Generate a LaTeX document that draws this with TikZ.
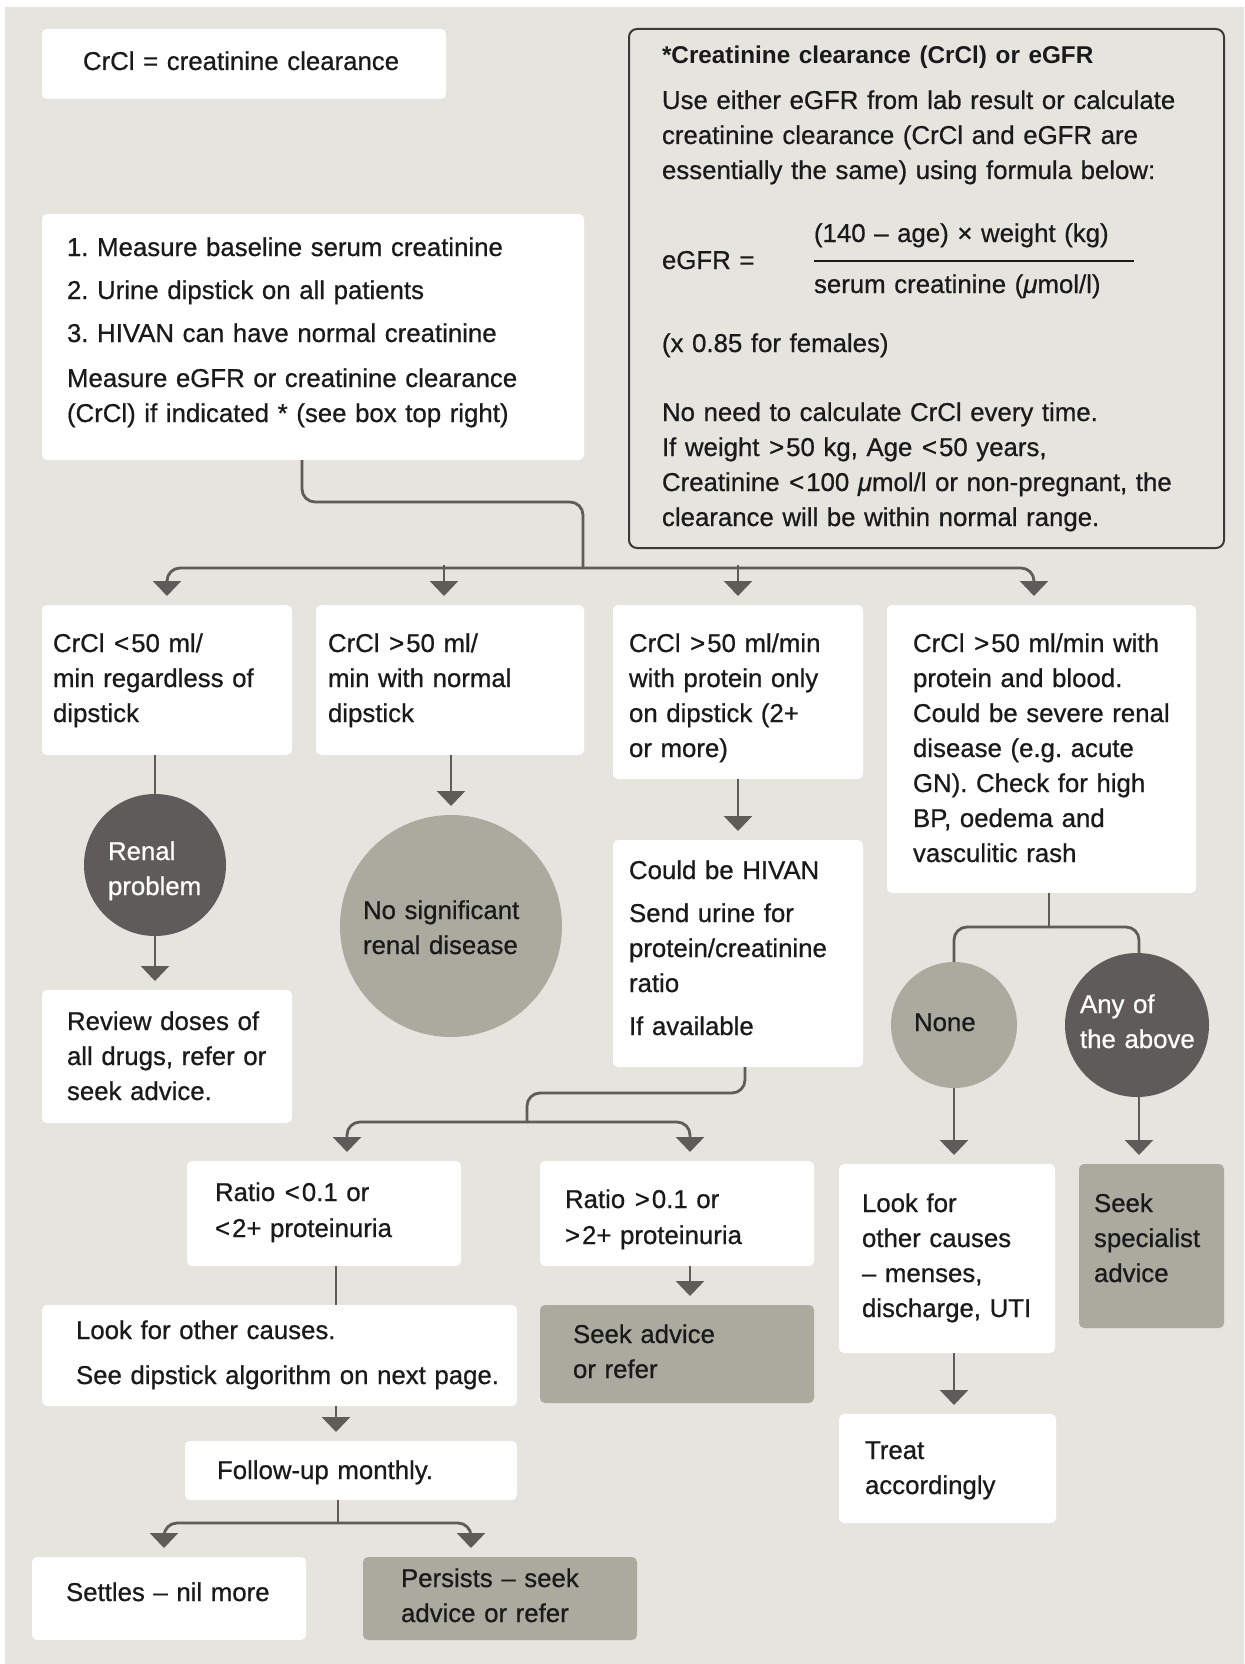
\documentclass[tikz,border=0pt]{standalone}
\usepackage{fontspec}
\setmainfont{Liberation Sans}[FakeBold=0.7]
\newfontfamily\semib{Liberation Sans Bold}
\usetikzlibrary{arrows.meta}
\definecolor{bgc}{HTML}{E5E4DE}
\definecolor{lnc}{HTML}{5F5B59}
\definecolor{gryc}{HTML}{ABAA9F}
\definecolor{drkc}{HTML}{5F5B5A}
\definecolor{brdc}{HTML}{3A3A3A}
\definecolor{inkc}{HTML}{1A1A1A}
\newcommand\myfs{\fontsize{25.8}{35}\selectfont\frenchspacing}
\newcommand\glt{\kern1pt<\kern2pt}
\newcommand\ggt{\kern1pt>\kern2pt}
\begin{document}
\begin{tikzpicture}[x=1pt,y=-1pt,
  box/.style 2 args={fill=white, rounded corners=5pt, inner sep=0pt, outer sep=0pt, anchor=north west, minimum width=#1pt, minimum height=#2pt},
  gbox/.style 2 args={box={#1}{#2}, fill=gryc},
  disc/.style 2 args={circle, fill=#1, inner sep=0pt, outer sep=0pt, minimum size=#2pt},
  txt/.style={anchor=base west, inner sep=0pt, outer sep=0pt, align=left, text width=560pt, font=\myfs, text=inkc},
  wtxt/.style={txt, text=white},
  conn/.style={draw=lnc, line width=2.8pt, rounded corners=13pt},
  arr/.style={conn, -{Triangle[width=28pt,length=15pt]}, shorten >=9pt}]
\useasboundingbox (0,0) rectangle (1244,1664);
\fill[white] (0,0) rectangle (1244,1664);
\fill[bgc] (5,7) rectangle (1244,1664);

% top boxes
\node[box={404}{70}] (crcl) at (42,29) {};
\node[txt] at (83,70) {CrCl = creatinine clearance};

\node[box={595}{519}, fill=bgc, draw=brdc, line width=2pt, rounded corners=8pt] (star) at (629,29) {};
\node[txt] at (662,64) {\semib\fontsize{24.3}{35}\selectfont *Creatinine clearance (CrCl) or eGFR};
\node[txt] at (662,109) {Use either eGFR from lab result or calculate\\creatinine clearance (CrCl and eGFR are\\essentially the same) using formula below:};
\node[txt] at (662,269) {eGFR =};
\node[txt] at (814,242) {(140 – age) × weight (kg)};
\draw[inkc, line width=1.6pt] (814,261) -- (1134,261);
\node[txt] at (814,293) {serum creatinine (\textit{μ}mol/l)};
\node[txt] at (662,352) {(x 0.85 for females)};
\node[txt] at (662,421) {No need to calculate CrCl every time.\\If weight \ggt50 kg, Age \glt50 years,\\Creatinine \glt100 \textit{μ}mol/l or non-pregnant, the\\clearance will be within normal range.};

\node[box={542}{246}] (m1) at (42,214) {};
\node[txt] at (67,256) {1. Measure baseline serum creatinine\\[8pt]2. Urine dipstick on all patients\\[8pt]3. HIVAN can have normal creatinine\\[10pt]Measure eGFR or creatinine clearance\\(CrCl) if indicated * (see box top right)};

% row of four
\node[box={250}{150}] (A) at (42,605) {};
\node[txt] at (53,652) {CrCl \glt50 ml/\\min regardless of\\dipstick};
\node[box={268}{150}] (B) at (316,605) {};
\node[txt] at (328,652) {CrCl \ggt50 ml/\\min with normal\\dipstick};
\node[box={250}{174}] (C) at (613,605) {};
\node[txt] at (629,652) {CrCl \ggt50 ml/min\\with protein only\\on dipstick (2+\\or more)};
\node[box={309}{288}] (D) at (887,605) {};
\node[txt] at (913,652) {CrCl \ggt50 ml/min with\\protein and blood.\\Could be severe renal\\disease (e.g. acute\\GN). Check for high\\BP, oedema and\\vasculitic rash};

% column A
\node[disc={drkc}{142}] (renal) at (155,865) {};
\node[wtxt] at (108,860) {Renal\\problem};
\node[box={250}{133}] (review) at (42,990) {};
\node[txt] at (67,1030) {Review doses of\\all drugs, refer or\\seek advice.};

% column B
\node[disc={gryc}{222}] (nosig) at (451,926) {};
\node[txt] at (363,919) {No significant\\renal disease};

% column C
\node[box={250}{227}] (hiv) at (613,840) {};
\node[txt] at (629,879) {Could be HIVAN\\[8pt]Send urine for\\protein/creatinine\\ratio\\[8pt]If available};
\node[box={274}{105}] (rlt) at (187,1161) {};
\node[txt] at (215,1201) {Ratio \glt0.1 or\\\glt2+ proteinuria};
\node[box={274}{105}] (rgt) at (540,1161) {};
\node[txt] at (565,1208) {Ratio \ggt0.1 or\\\ggt2+ proteinuria};
\node[box={475}{101}] (look) at (42,1305) {};
\node[txt] at (76,1339) {Look for other causes.\\[10pt]See dipstick algorithm on next page.};
\node[gbox={274}{98}] (seekadv) at (540,1305) {};
\node[txt] at (573,1343) {Seek advice\\or refer};
\node[box={332}{59}] (follow) at (185,1441) {};
\node[txt] at (217,1479) {Follow-up monthly.};
\node[box={274}{83}] (settles) at (32,1557) {};
\node[txt] at (66,1601) {Settles – nil more};
\node[gbox={274}{83}] (persists) at (363,1557) {};
\node[txt] at (401,1587) {Persists – seek\\advice or refer};

% column D
\node[disc={gryc}{126}] (none) at (954,1025) {};
\node[txt] at (914,1031) {None};
\node[disc={drkc}{144}] (any) at (1137,1025) {};
\node[wtxt] at (1080,1013) {Any of\\the above};
\node[box={216}{189}] (look2) at (839,1164) {};
\node[txt] at (862,1212) {Look for\\other causes\\– menses,\\discharge, UTI};
\node[gbox={145}{164}] (seekspec) at (1079,1164) {};
\node[txt] at (1094,1212) {Seek\\specialist\\advice};
\node[box={217}{109}] (treat) at (839,1414) {};
\node[txt] at (865,1459) {Treat\\accordingly};

% connectors: main split
\coordinate (s1) at (302,502);
\coordinate (s2) at (583,502);
\coordinate (bus) at (583,568);
\coordinate (bA) at (167,568);
\coordinate (bB) at (444,565);
\coordinate (bC) at (738,565);
\coordinate (bD) at (1034,568);
\draw[conn] (m1.south -| s1) -- (s1) -- (s2) -- (bus);
\draw[arr] (bus) -- (bA) -- (A.north -| bA);
\draw[arr] (bus) -- (bD) -- (D.north -| bD);
\draw[arr] (bB) -- (B.north -| bB);
\draw[arr] (bC) -- (C.north -| bC);

% column A
\draw[conn] (A.south -| renal.north) -- (renal.north);
\draw[arr] (renal.south) -- (review.north -| renal.south);

% column B
\draw[arr] (B.south -| nosig.north) -- (nosig.north);

% column C
\draw[arr] (C.south -| bC) -- (hiv.north -| bC);
\coordinate (h1) at (745,1093);
\coordinate (h2) at (527,1093);
\coordinate (h3) at (527,1122);
\coordinate (hl) at (347,1122);
\coordinate (hr) at (690,1122);
\draw[conn] (hiv.south -| h1) -- (h1) -- (h2) -- (h3);
\draw[arr] (h3) -- (hl) -- (rlt.north -| hl);
\draw[arr] (h3) -- (hr) -- (rgt.north -| hr);
\coordinate (vl) at (336,1266);
\draw[conn] (rlt.south -| vl) -- (look.north -| vl);
\draw[arr] (look.south -| vl) -- (follow.north -| vl);
\draw[arr] (rgt.south -| hr) -- (seekadv.north -| hr);
\coordinate (f1) at (338,1523);
\coordinate (fl) at (164,1523);
\coordinate (fr) at (471,1523);
\draw[conn] (follow.south -| f1) -- (f1);
\draw[arr] (f1) -- (fl) -- (settles.north -| fl);
\draw[arr] (f1) -- (fr) -- (persists.north -| fr);

% column D
\coordinate (d1) at (1049,927);
\coordinate (dl) at (954,927);
\coordinate (dr) at (1139,927);
\draw[conn] (D.south -| d1) -- (d1);
\draw[conn] (d1) -- (dl) -- (none.north);
\draw[conn] (d1) -- (dr) -- (any.north -| dr);
\draw[arr] (none.south) -- (look2.north -| none.south);
\draw[arr] (any.south -| dr) -- (seekspec.north -| dr);
\draw[arr] (look2.south -| none.south) -- (treat.north -| none.south);
\end{tikzpicture}
\end{document}
